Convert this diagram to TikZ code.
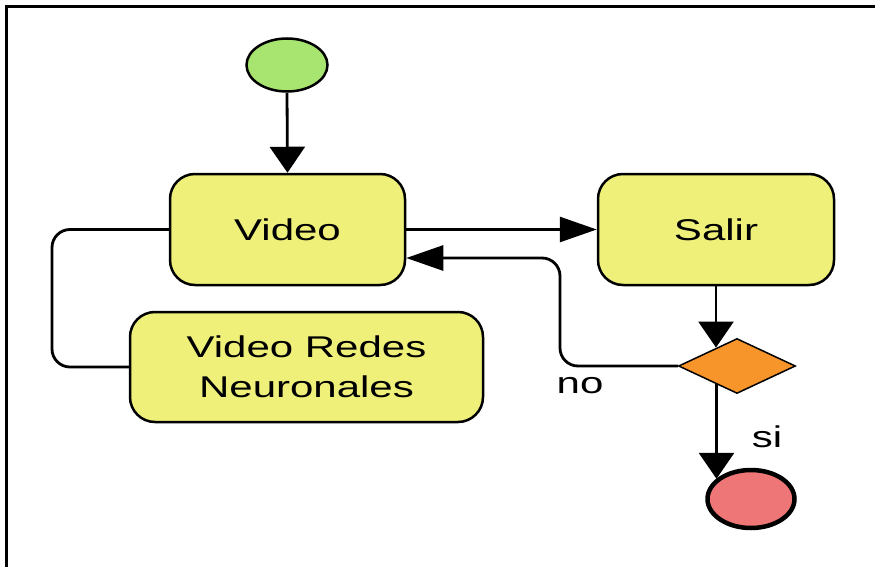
\documentclass[tikz,border=0pt]{standalone}
\usepackage{fontspec}
\setmainfont[FakeStretch=1.4]{Liberation Sans}
\usetikzlibrary{arrows.meta,shapes.geometric}
\definecolor{boxyellow}{RGB}{238,240,122}
\definecolor{startgreen}{RGB}{168,228,112}
\definecolor{diaorange}{RGB}{247,148,42}
\definecolor{endred}{RGB}{238,118,118}
\tikzset{
  actbox/.style={draw=black, line width=2.5pt, fill=boxyellow, rounded corners=25pt,
    align=center, inner sep=0pt, font=\fontsize{30}{40}\selectfont},
  conn/.style={draw=black, line width=2.8pt},
  harrow/.style={conn, -{Triangle[length=37pt,width=25pt]}},
  varrow/.style={conn, -{Triangle[length=26pt,width=35pt]}},
  lbl/.style={font=\fontsize{30}{36}\selectfont, inner sep=0pt}
}
\begin{document}
\begin{tikzpicture}[x=1pt,y=-1pt]
\useasboundingbox (0,0) rectangle (875,567);
\fill[white] (0,0) rectangle (875,567);
\draw[line width=3pt] (6.5,567) -- (6.5,6.5) -- (875,6.5);

\node[ellipse, draw=black, line width=2.5pt, fill=startgreen, minimum width=81pt, minimum height=53pt, inner sep=0pt] (start) at (287,65) {};
\node[actbox, minimum width=235pt, minimum height=111pt] (video) at (287.5,229.5) {Video};
\node[actbox, minimum width=236pt, minimum height=111pt] (salir) at (716,229.5) {Salir};
\node[actbox, minimum width=353pt, minimum height=110pt] (vrn) at (306.5,367) {Video Redes\\Neuronales};
\node[diamond, draw=black, line width=1.5pt, fill=diaorange, minimum width=117pt, minimum height=55pt, inner sep=0pt] (dia) at (737,366) {};
\node[ellipse, draw=black, line width=4.5pt, fill=endred, minimum width=87pt, minimum height=58pt, inner sep=0pt] (end) at (751,499) {};

\coordinate (n1) at (560,258);
\coordinate (n2) at (52,300);

\draw[varrow] (start.south) -- (video.north);
\draw[harrow] (video.east) -- (salir.west);
\draw[varrow] (salir.south) -- (salir.south |- dia.138);
\draw[varrow] (dia.222) -- (dia.222 |- end.150);
\draw[harrow, rounded corners=18pt] (dia.west) -| (n1) -- (n1 -| video.east);
\draw[conn, rounded corners=18pt] (video.west) -| (n2) |- (vrn.west);

\node[lbl] (no) at (580,386) {no};
\node[lbl] (si) at (767,437) {si};
\end{tikzpicture}
\end{document}
